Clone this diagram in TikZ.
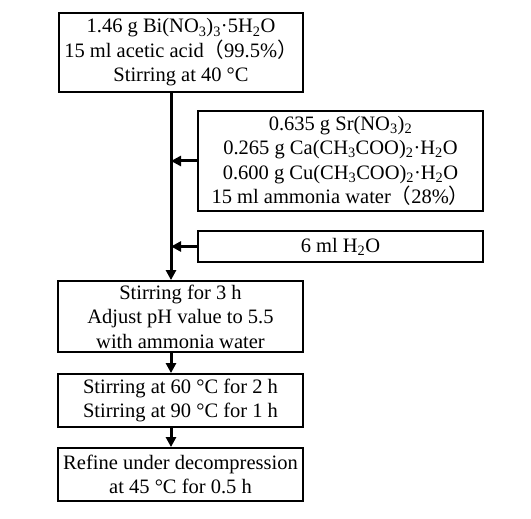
\documentclass[tikz,border=0pt]{standalone}
\usepackage{fontspec}
\setmainfont{Liberation Serif}
\newfontfamily\cjk{Noto Sans CJK SC}
\usetikzlibrary{arrows.meta}
\newcommand{\lp}{{\cjk （}}
\newcommand{\rp}{{\cjk ）}}
\newcommand{\sub}[1]{\textsubscript{#1}}
\begin{document}
\begin{tikzpicture}[x=1pt,y=1pt,
  box/.style={draw, line width=1.8pt, align=center, inner sep=0pt,
    font=\fontsize{20.5}{24.5}\selectfont},
  flow/.style={line width=3pt, -{Triangle[length=10pt,width=10pt]}}]
\useasboundingbox (0,0) rectangle (531,-519);
\node[box, minimum width=244pt, minimum height=79pt] (b1) at (181,-52.5)
  {1.46 g Bi(NO\sub{3})\sub{3}·5H\sub{2}O\\15 ml acetic acid\lp 99.5\%\rp\\Stirring at 40 °C};
\node[box, minimum width=285pt, minimum height=100pt] (b2) at (340.5,-161)
  {0.635 g Sr(NO\sub{3})\sub{2}\\0.265 g Ca(CH\sub{3}COO)\sub{2}·H\sub{2}O\\0.600 g Cu(CH\sub{3}COO)\sub{2}·H\sub{2}O\\15 ml ammonia water\lp 28\%\rp};
\node[box, minimum width=285pt, minimum height=31pt] (b3) at (340.5,-246.5)
  {6 ml H\sub{2}O};
\node[box, minimum width=245pt, minimum height=71pt] (b4) at (180.5,-316.5)
  {Stirring for 3 h\\Adjust pH value to 5.5\\with ammonia water};
\node[box, minimum width=245pt, minimum height=53pt] (b5) at (180.5,-400.5)
  {Stirring at 60 °C for 2 h\\Stirring at 90 °C for 1 h};
\node[box, minimum width=245pt, minimum height=53pt] (b6) at (180.5,-474.5)
  {Refine under decompression\\at 45 °C for 0.5 h};
\coordinate (trunk) at (171,0);
\draw[flow] (b1.south -| trunk) -- (b4.north -| trunk);
\draw[flow] (b2.west) -- (b2.west -| trunk);
\draw[flow] (b3.west) -- (b3.west -| trunk);
\draw[flow] (b4.south -| trunk) -- (b5.north -| trunk);
\draw[flow] (b5.south -| trunk) -- (b6.north -| trunk);
\end{tikzpicture}
\end{document}
